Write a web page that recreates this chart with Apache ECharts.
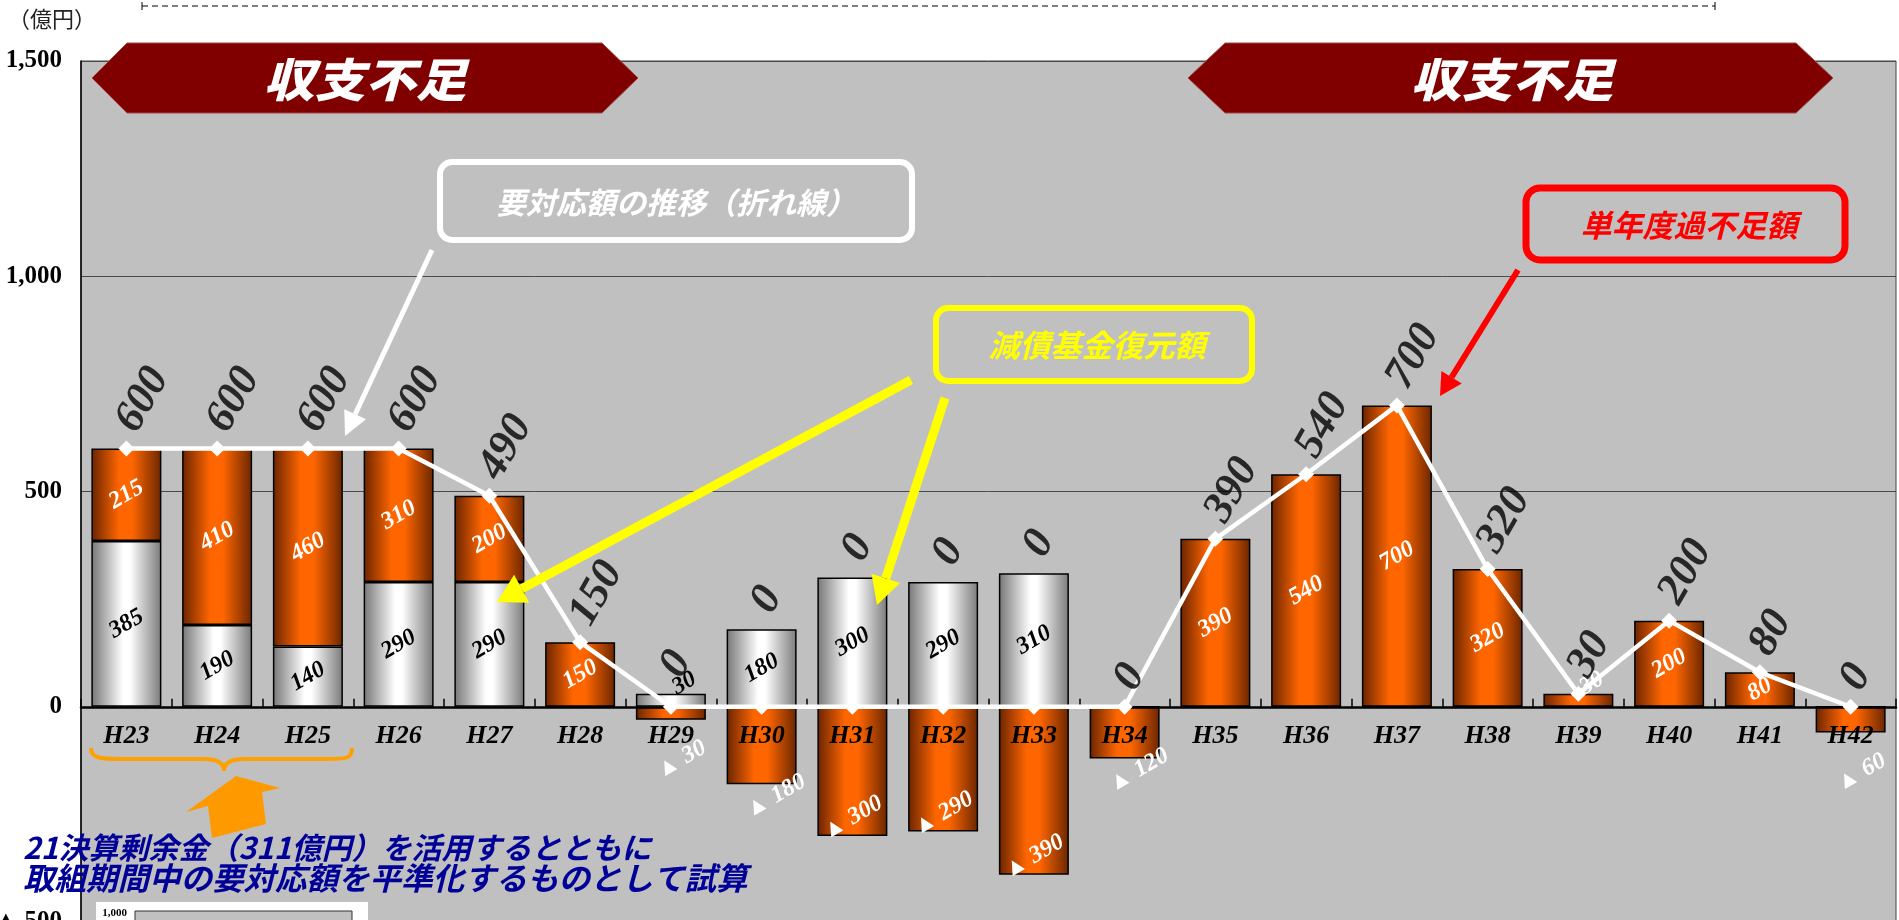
<!DOCTYPE html>
<html><head><meta charset="utf-8">
<script src="https://cdn.jsdelivr.net/npm/echarts@6/dist/echarts.min.js"></script>
<style>html,body{margin:0;padding:0;background:#fff}#chart{width:1899px;height:920px}</style>
</head><body><div id="chart"></div>
<script>
// ---- data ----
const categories = ['H23','H24','H25','H26','H27','H28','H29','H30','H31','H32','H33','H34','H35','H36','H37','H38','H39','H40','H41','H42'];
// 減債基金復元額 (white bars)
const reserveRestore = [385,190,140,290,290,0,30,180,300,290,310,0,0,0,0,0,0,0,0,0];
// 単年度過不足額 (orange bars)
const annualBalance = [215,410,460,310,200,150,-30,-180,-300,-290,-390,-120,390,540,700,320,30,200,80,-60];
// 要対応額の推移 (line)
const requiredAmount = [600,600,600,600,490,150,0,0,0,0,0,0,390,540,700,320,30,200,80,0];
const yTickValues = [-500,0,500,1000,1500];

const serif = 'Liberation Serif';
const jp = 'Noto Sans CJK JP';

const Y_MIN = yTickValues[0], Y_MAX = yTickValues[yTickValues.length-1];
const GRID = {left:81, top:61, width:1815, height:861};
// move the category axis up to the zero line
const xAxisOffset = -GRID.height * (0 - Y_MIN) / (Y_MAX - Y_MIN);

function fmtAxis(v){ return v < 0 ? '▲ ' + Math.abs(v).toLocaleString('en-US') : v.toLocaleString('en-US'); }

// top of the positive stack (where the line labels sit)
const labelAnchor = categories.map((c,i) => reserveRestore[i] + Math.max(annualBalance[i],0));

function arrow(x1,y1,x2,y2,w,hl,hw,color){
  const dx=x2-x1, dy=y2-y1, L=Math.hypot(dx,dy), ux=dx/L, uy=dy/L;
  const bx=x2-ux*hl, by=y2-uy*hl, px=-uy, py=ux;
  return [
    {type:'line', z:100, shape:{x1:x1,y1:y1,x2:bx,y2:by}, style:{stroke:color,lineWidth:w}},
    {type:'polygon', z:100, shape:{points:[[x2,y2],[bx+px*hw,by+py*hw],[bx-px*hw,by-py*hw]]}, style:{fill:color}}
  ];
}
function txt(x,y,text,size,color,opts){
  opts = opts || {};
  return {type:'text', z:110, x:x, y:y, style:Object.assign({text:text, fill:color, fontSize:size, fontFamily:jp,
    fontWeight:'bold', fontStyle:'italic', align:'center', verticalAlign:'middle'}, opts)};
}

const orangeGrad = {type:'linear',x:0,y:0,x2:1,y2:0,colorStops:[
  {offset:0,color:'#6a2400'},{offset:0.4,color:'#ff6600'},{offset:0.58,color:'#ff6600'},{offset:1,color:'#6a2600'}]};
const whiteGrad = {type:'linear',x:0,y:0,x2:1,y2:0,colorStops:[
  {offset:0,color:'#767676'},{offset:0.45,color:'#ffffff'},{offset:0.55,color:'#ffffff'},{offset:1,color:'#7a7a7a'}]};

const barLabelBase = {show:true, rotate:30, fontFamily:serif, fontWeight:'bold', fontStyle:'italic', fontSize:24,
  align:'center', verticalAlign:'middle'};

// label placement only (values untouched)
function barItem(v){
  if (v > 0 && v < 50) return {value:v, label:{offset:[20,-8]}};
  if (v < 0) {
    const a = Math.abs(v);
    if (a >= 290) return {value:v, label:{position:'insideBottom', distance:18}};
    return {value:v, label:{position:'bottom', distance: a < 100 ? 46 : 20, offset:[a < 100 ? 12 : 16, 0]}};
  }
  return v;
}
const whiteData = reserveRestore.map(barItem);
const orangeData = annualBalance.map(barItem);

const graphic = [
  // dashed line at top
  {type:'line', z:100, shape:{x1:142,y1:6,x2:1715,y2:6}, style:{stroke:'#000',lineWidth:1.2,lineDash:[6,4]}},
  {type:'line', z:100, shape:{x1:142,y1:2,x2:142,y2:10}, style:{stroke:'#000',lineWidth:1}},
  {type:'line', z:100, shape:{x1:1715,y1:2,x2:1715,y2:10}, style:{stroke:'#000',lineWidth:1}},
  // unit
  txt(8,19,'（億円）',22,'#222',{align:'left', fontWeight:'normal', fontStyle:'normal'}),
  // banners
  {type:'polygon', z:100, shape:{points:[[92,78],[127,43],[602,43],[638,78],[602,113],[127,113]]}, style:{fill:'#800000',stroke:'#a04848',lineWidth:1}},
  {type:'polygon', z:100, shape:{points:[[1188,78],[1225,43],[1796,43],[1833,78],[1796,113],[1225,113]]}, style:{fill:'#800000',stroke:'#a04848',lineWidth:1}},
  Object.assign(txt(365,80,'収支不足',46,'#fff',{fontWeight:900}), {scaleX:1.1}),
  Object.assign(txt(1512,80,'収支不足',46,'#fff',{fontWeight:900}), {scaleX:1.1}),
  // callout boxes
  {type:'rect', z:100, shape:{x:440,y:162,width:472,height:78,r:12}, style:{fill:null,stroke:'#fff',lineWidth:6}},
  txt(676,203,'要対応額の推移（折れ線）',30,'#fff'),
  {type:'rect', z:100, shape:{x:936,y:308,width:316,height:73,r:12}, style:{fill:null,stroke:'#ffff00',lineWidth:6}},
  txt(1097,345,'減債基金復元額',31,'#ffff00'),
  {type:'rect', z:100, shape:{x:1526,y:188,width:319,height:72,r:14}, style:{fill:null,stroke:'#ff0000',lineWidth:7}},
  txt(1689,225,'単年度過不足額',31,'#ff0000'),
  // arrows
  ...arrow(432,250,345,436,5,24,12,'#ffffff'),
  ...arrow(911,380,497,602,9,28,16,'#ffff00'),
  ...arrow(945,398,877,605,9,28,15,'#ffff00'),
  ...arrow(1518,270,1440,396,6,22,12,'#ff0000'),
  // brace
  {type:'bezierCurve', z:100, shape:{x1:91,y1:748,cpx1:91,cpy1:758,cpx2:100,cpy2:759,x2:120,y2:759}, style:{stroke:'#ffa000',lineWidth:4,fill:null}},
  {type:'line', z:100, shape:{x1:120,y1:759,x2:204,y2:759}, style:{stroke:'#ffa000',lineWidth:4}},
  {type:'bezierCurve', z:100, shape:{x1:204,y1:759,cpx1:218,cpy1:759,cpx2:224,cpy2:763,x2:224,y2:771}, style:{stroke:'#ffa000',lineWidth:4,fill:null}},
  {type:'bezierCurve', z:100, shape:{x1:224,y1:771,cpx1:224,cpy1:763,cpx2:230,cpy2:759,x2:244,y2:759}, style:{stroke:'#ffa000',lineWidth:4,fill:null}},
  {type:'line', z:100, shape:{x1:244,y1:759,x2:328,y2:759}, style:{stroke:'#ffa000',lineWidth:4}},
  {type:'bezierCurve', z:100, shape:{x1:328,y1:759,cpx1:348,cpy1:759,cpx2:352,cpy2:758,x2:352,y2:748}, style:{stroke:'#ffa000',lineWidth:4,fill:null}},
  // block arrow
  {type:'polygon', z:100, shape:{points:[[236,776],[280,788],[262,792],[266,824],[212,838],[208,806],[186,812]]}, style:{fill:'#ff9900'}},
  // note text
  txt(23,848,'21決算剰余金（311億円）を活用するとともに',30,'#000099',{align:'left'}),
  txt(23,878,'取組期間中の要対応額を平準化するものとして試算',31.5,'#000099',{align:'left'}),
  // inset (cut off)
  {type:'rect', z:100, shape:{x:96,y:902,width:272,height:30}, style:{fill:'#fff'}},
  {type:'rect', z:101, shape:{x:135,y:911,width:217,height:20}, style:{fill:'#c0c0c0',stroke:'#333',lineWidth:1}},
  {type:'text', z:101, x:127, y:913, style:{text:'1,000', fill:'#000', fontSize:11, fontFamily:serif, fontWeight:'bold', align:'right', verticalAlign:'middle'}}
];

const option = {
  backgroundColor:'#ffffff',
  animation:false,
  grid:Object.assign({outerBoundsMode:'none', containLabel:false,
    show:true, backgroundColor:'#c0c0c0', borderColor:'#444', borderWidth:1}, GRID),
  xAxis:{type:'category', data:categories, position:'bottom', offset:xAxisOffset, z:4,
    axisLine:{onZero:false, lineStyle:{color:'#000', width:2.5}},
    axisTick:{show:true, inside:true, length:8, lineStyle:{color:'#000', width:1.5}},
    axisLabel:{show:true, color:'#000', fontFamily:serif, fontWeight:'bold', fontStyle:'italic', fontSize:26, margin:17}},
  yAxis:{type:'value', min:Y_MIN, max:Y_MAX, interval:500,
    axisLine:{show:true, lineStyle:{color:'#000', width:1.5}},
    axisTick:{show:false},
    splitLine:{show:true, lineStyle:{color:'#4a4a4a', width:1}},
    axisLabel:{color:'#000', fontFamily:serif, fontWeight:'bold', fontSize:25, margin:19, formatter:fmtAxis}},
  series:[
    {name:'減債基金復元額', type:'bar', stack:'a', barWidth:70, data:whiteData,
      itemStyle:{color:whiteGrad, borderColor:'#000', borderWidth:1.5},
      label:Object.assign({}, barLabelBase, {position:'inside', color:'#000', formatter:p => p.value === 0 ? '' : String(p.value)})},
    {name:'単年度過不足額', type:'bar', stack:'a', barWidth:70, data:orangeData,
      itemStyle:{color:orangeGrad, borderColor:'#000', borderWidth:1.5},
      label:Object.assign({}, barLabelBase, {position:'inside', color:'#fff',
        formatter:p => p.value < 0 ? '▲ ' + Math.abs(p.value) : String(p.value)})},
    {name:'要対応額', type:'line', data:requiredAmount, z:5,
      lineStyle:{color:'#fff', width:4.5}, itemStyle:{color:'#fff'},
      symbol:'diamond', symbolSize:16, showAllSymbol:true},
    {name:'要対応額ラベル', type:'scatter', data:labelAnchor, symbolSize:0, z:6, silent:true,
      label:{show:true, position:'top', distance:20, rotate:60, align:'left', verticalAlign:'middle',
        color:'#000', fontFamily:serif, fontWeight:'bold', fontStyle:'italic', fontSize:44,
        formatter:p => String(requiredAmount[p.dataIndex])}}
  ],
  graphic:graphic
};
const chart = echarts.init(document.getElementById('chart'));
chart.setOption(option);
</script></body></html>
